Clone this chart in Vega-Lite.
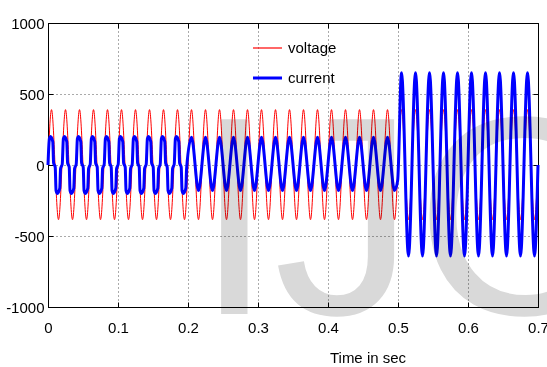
{
  "$schema": "https://vega.github.io/schema/vega-lite/v6.json",
  "width": 490,
  "height": 284,
  "autosize": {"type": "none"},
  "padding": {"left": 48, "top": 23, "right": 9, "bottom": 60},
  "background": "white",
  "config": {
    "view": {"stroke": "#000", "strokeWidth": 1},
    "font": "Liberation Sans",
    "axis": {
      "labelFont": "Liberation Sans",
      "labelFontSize": 15,
      "labelColor": "#000",
      "domainColor": "#000",
      "tickColor": "#000",
      "titleFont": "Liberation Sans",
      "titleFontSize": 15,
      "titleColor": "#000",
      "titleFontWeight": "normal",
      "gridColor": "#555",
      "gridDash": [1, 3],
      "gridOpacity": 1,
      "gridWidth": 1
    },
    "legend": {
      "labelFont": "Liberation Sans",
      "labelFontSize": 15,
      "labelColor": "#000",
      "padding": 0
    }
  },
  "resolve": {"axis": {"x": "independent", "y": "independent"}},
  "layer": [
    {
      "data": {"values": [
        {"t":0,"v":0,"s":"voltage"},
        {"t":0.005,"v":390,"s":"voltage"},{"t":0.015,"v":-385,"s":"voltage"},
        {"t":0.025,"v":390,"s":"voltage"},{"t":0.035,"v":-385,"s":"voltage"},
        {"t":0.045,"v":390,"s":"voltage"},{"t":0.055,"v":-385,"s":"voltage"},
        {"t":0.065,"v":390,"s":"voltage"},{"t":0.075,"v":-385,"s":"voltage"},
        {"t":0.085,"v":390,"s":"voltage"},{"t":0.095,"v":-385,"s":"voltage"},
        {"t":0.105,"v":390,"s":"voltage"},{"t":0.115,"v":-385,"s":"voltage"},
        {"t":0.125,"v":390,"s":"voltage"},{"t":0.135,"v":-385,"s":"voltage"},
        {"t":0.145,"v":390,"s":"voltage"},{"t":0.155,"v":-385,"s":"voltage"},
        {"t":0.165,"v":390,"s":"voltage"},{"t":0.175,"v":-385,"s":"voltage"},
        {"t":0.185,"v":390,"s":"voltage"},{"t":0.195,"v":-385,"s":"voltage"},
        {"t":0.205,"v":390,"s":"voltage"},{"t":0.215,"v":-385,"s":"voltage"},
        {"t":0.225,"v":390,"s":"voltage"},{"t":0.235,"v":-385,"s":"voltage"},
        {"t":0.245,"v":390,"s":"voltage"},{"t":0.255,"v":-385,"s":"voltage"},
        {"t":0.265,"v":390,"s":"voltage"},{"t":0.275,"v":-385,"s":"voltage"},
        {"t":0.285,"v":390,"s":"voltage"},{"t":0.295,"v":-385,"s":"voltage"},
        {"t":0.305,"v":390,"s":"voltage"},{"t":0.315,"v":-385,"s":"voltage"},
        {"t":0.325,"v":390,"s":"voltage"},{"t":0.335,"v":-385,"s":"voltage"},
        {"t":0.345,"v":390,"s":"voltage"},{"t":0.355,"v":-385,"s":"voltage"},
        {"t":0.365,"v":390,"s":"voltage"},{"t":0.375,"v":-385,"s":"voltage"},
        {"t":0.385,"v":390,"s":"voltage"},{"t":0.395,"v":-385,"s":"voltage"},
        {"t":0.405,"v":390,"s":"voltage"},{"t":0.415,"v":-385,"s":"voltage"},
        {"t":0.425,"v":390,"s":"voltage"},{"t":0.435,"v":-385,"s":"voltage"},
        {"t":0.445,"v":390,"s":"voltage"},{"t":0.455,"v":-385,"s":"voltage"},
        {"t":0.465,"v":390,"s":"voltage"},{"t":0.475,"v":-385,"s":"voltage"},
        {"t":0.485,"v":390,"s":"voltage"},{"t":0.495,"v":-385,"s":"voltage"},
        {"t":0.505,"v":390,"s":"voltage"},{"t":0.515,"v":-385,"s":"voltage"},
        {"t":0.525,"v":390,"s":"voltage"},{"t":0.535,"v":-385,"s":"voltage"},
        {"t":0.545,"v":390,"s":"voltage"},{"t":0.555,"v":-385,"s":"voltage"},
        {"t":0.565,"v":390,"s":"voltage"},{"t":0.575,"v":-385,"s":"voltage"},
        {"t":0.585,"v":390,"s":"voltage"},{"t":0.595,"v":-385,"s":"voltage"},
        {"t":0.605,"v":390,"s":"voltage"},{"t":0.615,"v":-385,"s":"voltage"},
        {"t":0.625,"v":390,"s":"voltage"},{"t":0.635,"v":-385,"s":"voltage"},
        {"t":0.645,"v":390,"s":"voltage"},{"t":0.655,"v":-385,"s":"voltage"},
        {"t":0.665,"v":390,"s":"voltage"},{"t":0.675,"v":-385,"s":"voltage"},
        {"t":0.685,"v":390,"s":"voltage"},{"t":0.695,"v":-385,"s":"voltage"},
        {"t":0.7,"v":0,"s":"voltage"}
      ]},
      "mark": {"type": "line", "interpolate": "monotone", "strokeWidth": 1},
      "encoding": {
        "x": {
          "field": "t", "type": "quantitative",
          "scale": {"domain": [0, 0.7], "nice": false, "zero": false},
          "axis": {
            "orient": "bottom",
            "values": [0, 0.1, 0.2, 0.3, 0.4, 0.5, 0.6, 0.7],
            "labelExpr": "'' + datum.value",
            "grid": true,
            "tickSize": -5,
            "labelPadding": 18,
            "labelFlush": false,
            "labelOverlap": false,
            "title": "Time in sec",
            "titleX": 319.5,
            "titleY": 55,
            "titleAlign": "center",
            "titleBaseline": "alphabetic"
          }
        },
        "y": {
          "field": "v", "type": "quantitative",
          "scale": {"domain": [-1000, 1000], "nice": false},
          "axis": {
            "orient": "left",
            "values": [-1000, -500, 0, 500, 1000],
            "labelExpr": "'' + datum.value",
            "grid": true,
            "tickSize": -5,
            "labelPadding": 9,
            "labelFlush": false,
            "labelOverlap": false,
            "title": null
          }
        },
        "color": {
          "field": "s", "type": "nominal",
          "scale": {"domain": ["voltage", "current"], "range": ["#ff0000", "#0000ff"]},
          "legend": {
            "title": null, "orient": "none", "legendX": 212, "legendY": 17.5,
            "symbolType": "stroke",
            "symbolSize": 841,
            "rowPadding": 14,
            "labelOffset": 13,
            "encode": {"symbols": {"update": {
              "strokeWidth": {"signal": "datum.label === 'current' ? 3 : 1.2"},
              "stroke": {"signal": "datum.label === 'current' ? '#0000ff' : '#ff0000'"},
              "size": {"value": 841},
              "opacity": {"value": 1},
              "strokeOpacity": {"value": 1}
            }}}
          }
        }
      }
    },
    {
      "data": {"values": [
        {"t":0,"v":0,"s":"current"},{"t":0.002,"v":185,"s":"current"},{"t":0.0035,"v":200,"s":"current"},{"t":0.0068,"v":165,"s":"current"},{"t":0.008,"v":15,"s":"current"},{"t":0.0103,"v":-15,"s":"current"},{"t":0.0115,"v":-180,"s":"current"},{"t":0.0135,"v":-200,"s":"current"},{"t":0.0168,"v":-165,"s":"current"},{"t":0.018,"v":-25,"s":"current"},
        {"t":0.0203,"v":5,"s":"current"},{"t":0.022,"v":185,"s":"current"},{"t":0.0235,"v":200,"s":"current"},{"t":0.0268,"v":165,"s":"current"},{"t":0.028,"v":15,"s":"current"},{"t":0.0303,"v":-15,"s":"current"},{"t":0.0315,"v":-180,"s":"current"},{"t":0.0335,"v":-200,"s":"current"},{"t":0.0368,"v":-165,"s":"current"},{"t":0.038,"v":-25,"s":"current"},
        {"t":0.0403,"v":5,"s":"current"},{"t":0.042,"v":185,"s":"current"},{"t":0.0435,"v":200,"s":"current"},{"t":0.0468,"v":165,"s":"current"},{"t":0.048,"v":15,"s":"current"},{"t":0.0503,"v":-15,"s":"current"},{"t":0.0515,"v":-180,"s":"current"},{"t":0.0535,"v":-200,"s":"current"},{"t":0.0568,"v":-165,"s":"current"},{"t":0.058,"v":-25,"s":"current"},
        {"t":0.0603,"v":5,"s":"current"},{"t":0.062,"v":185,"s":"current"},{"t":0.0635,"v":200,"s":"current"},{"t":0.0668,"v":165,"s":"current"},{"t":0.068,"v":15,"s":"current"},{"t":0.0703,"v":-15,"s":"current"},{"t":0.0715,"v":-180,"s":"current"},{"t":0.0735,"v":-200,"s":"current"},{"t":0.0768,"v":-165,"s":"current"},{"t":0.078,"v":-25,"s":"current"},
        {"t":0.0803,"v":5,"s":"current"},{"t":0.082,"v":185,"s":"current"},{"t":0.0835,"v":200,"s":"current"},{"t":0.0868,"v":165,"s":"current"},{"t":0.088,"v":15,"s":"current"},{"t":0.0903,"v":-15,"s":"current"},{"t":0.0915,"v":-180,"s":"current"},{"t":0.0935,"v":-200,"s":"current"},{"t":0.0968,"v":-165,"s":"current"},{"t":0.098,"v":-25,"s":"current"},
        {"t":0.1003,"v":5,"s":"current"},{"t":0.102,"v":185,"s":"current"},{"t":0.1035,"v":200,"s":"current"},{"t":0.1068,"v":165,"s":"current"},{"t":0.108,"v":15,"s":"current"},{"t":0.1103,"v":-15,"s":"current"},{"t":0.1115,"v":-180,"s":"current"},{"t":0.1135,"v":-200,"s":"current"},{"t":0.1168,"v":-165,"s":"current"},{"t":0.118,"v":-25,"s":"current"},
        {"t":0.1203,"v":5,"s":"current"},{"t":0.122,"v":185,"s":"current"},{"t":0.1235,"v":200,"s":"current"},{"t":0.1268,"v":165,"s":"current"},{"t":0.128,"v":15,"s":"current"},{"t":0.1303,"v":-15,"s":"current"},{"t":0.1315,"v":-180,"s":"current"},{"t":0.1335,"v":-200,"s":"current"},{"t":0.1368,"v":-165,"s":"current"},{"t":0.138,"v":-25,"s":"current"},
        {"t":0.1403,"v":5,"s":"current"},{"t":0.142,"v":185,"s":"current"},{"t":0.1435,"v":200,"s":"current"},{"t":0.1468,"v":165,"s":"current"},{"t":0.148,"v":15,"s":"current"},{"t":0.1503,"v":-15,"s":"current"},{"t":0.1515,"v":-180,"s":"current"},{"t":0.1535,"v":-200,"s":"current"},{"t":0.1568,"v":-165,"s":"current"},{"t":0.158,"v":-25,"s":"current"},
        {"t":0.1603,"v":5,"s":"current"},{"t":0.162,"v":185,"s":"current"},{"t":0.1635,"v":200,"s":"current"},{"t":0.1668,"v":165,"s":"current"},{"t":0.168,"v":15,"s":"current"},{"t":0.1703,"v":-15,"s":"current"},{"t":0.1715,"v":-180,"s":"current"},{"t":0.1735,"v":-200,"s":"current"},{"t":0.1768,"v":-165,"s":"current"},{"t":0.178,"v":-25,"s":"current"},
        {"t":0.1803,"v":5,"s":"current"},{"t":0.182,"v":185,"s":"current"},{"t":0.1835,"v":200,"s":"current"},{"t":0.1868,"v":165,"s":"current"},{"t":0.188,"v":15,"s":"current"},{"t":0.1903,"v":-15,"s":"current"},{"t":0.1915,"v":-180,"s":"current"},{"t":0.1935,"v":-200,"s":"current"},{"t":0.1968,"v":-165,"s":"current"},{"t":0.198,"v":-25,"s":"current"},
        {"t":0.205,"v":195,"s":"current"},{"t":0.215,"v":-180,"s":"current"},
        {"t":0.225,"v":195,"s":"current"},{"t":0.235,"v":-180,"s":"current"},
        {"t":0.245,"v":195,"s":"current"},{"t":0.255,"v":-180,"s":"current"},
        {"t":0.265,"v":195,"s":"current"},{"t":0.275,"v":-180,"s":"current"},
        {"t":0.285,"v":195,"s":"current"},{"t":0.295,"v":-180,"s":"current"},
        {"t":0.305,"v":195,"s":"current"},{"t":0.315,"v":-180,"s":"current"},
        {"t":0.325,"v":195,"s":"current"},{"t":0.335,"v":-180,"s":"current"},
        {"t":0.345,"v":195,"s":"current"},{"t":0.355,"v":-180,"s":"current"},
        {"t":0.365,"v":195,"s":"current"},{"t":0.375,"v":-180,"s":"current"},
        {"t":0.385,"v":195,"s":"current"},{"t":0.395,"v":-180,"s":"current"},
        {"t":0.405,"v":195,"s":"current"},{"t":0.415,"v":-180,"s":"current"},
        {"t":0.425,"v":195,"s":"current"},{"t":0.435,"v":-180,"s":"current"},
        {"t":0.445,"v":195,"s":"current"},{"t":0.455,"v":-180,"s":"current"},
        {"t":0.465,"v":195,"s":"current"},{"t":0.475,"v":-180,"s":"current"},
        {"t":0.485,"v":195,"s":"current"},{"t":0.495,"v":-180,"s":"current"},
        {"t":0.4995,"v":-110,"s":"current"},
        {"t":0.505,"v":650,"s":"current"},{"t":0.515,"v":-640,"s":"current"},
        {"t":0.525,"v":650,"s":"current"},{"t":0.535,"v":-640,"s":"current"},
        {"t":0.545,"v":650,"s":"current"},{"t":0.555,"v":-640,"s":"current"},
        {"t":0.565,"v":650,"s":"current"},{"t":0.575,"v":-640,"s":"current"},
        {"t":0.585,"v":650,"s":"current"},{"t":0.595,"v":-640,"s":"current"},
        {"t":0.605,"v":650,"s":"current"},{"t":0.615,"v":-640,"s":"current"},
        {"t":0.625,"v":650,"s":"current"},{"t":0.635,"v":-640,"s":"current"},
        {"t":0.645,"v":650,"s":"current"},{"t":0.655,"v":-640,"s":"current"},
        {"t":0.665,"v":650,"s":"current"},{"t":0.675,"v":-640,"s":"current"},
        {"t":0.685,"v":650,"s":"current"},{"t":0.695,"v":-640,"s":"current"},
        {"t":0.7,"v":0,"s":"current"}
      ]},
      "mark": {"type": "line", "interpolate": "monotone", "strokeWidth": 3},
      "encoding": {
        "x": {
          "field": "t", "type": "quantitative",
          "axis": {"orient": "top", "values": [0, 0.1, 0.2, 0.3, 0.4, 0.5, 0.6, 0.7], "labels": false, "grid": false, "tickSize": -5, "title": null}
        },
        "y": {
          "field": "v", "type": "quantitative",
          "axis": {"orient": "right", "values": [-1000, -500, 0, 500, 1000], "labels": false, "grid": false, "tickSize": -5, "title": null}
        },
        "color": {"field": "s", "type": "nominal"}
      }
    },
    {
      "data": {"values": [{"w": "IJC"}]},
      "mark": {"type": "text", "font": "Liberation Sans", "fontSize": 283, "align": "left", "baseline": "alphabetic", "color": "#d9d9d9", "blend": "multiply", "clip": false},
      "encoding": {
        "x": {"datum": 0.21, "type": "quantitative", "axis": null},
        "y": {"datum": -1049, "type": "quantitative", "axis": null},
        "text": {"field": "w"}
      }
    }
  ]
}
